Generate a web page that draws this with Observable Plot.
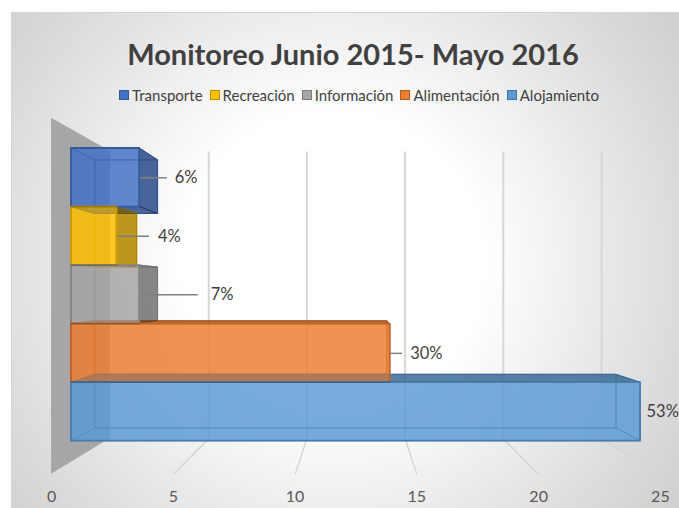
<!DOCTYPE html>
<html>
<head>
<meta charset="utf-8">
<script src="https://cdn.jsdelivr.net/npm/d3@7"></script>
<script src="https://cdn.jsdelivr.net/npm/@observablehq/plot@0.6"></script>
<style>
  html, body { margin: 0; padding: 0; background: #fff; }
  #wrap { position: relative; width: 679px; height: 508px; overflow: hidden; background: #fff; font-family: Lato, "Open Sans", sans-serif; }
  #bg { position: absolute; left: 11px; top: 12px; width: 700px; height: 520px;
        border-left: 1px solid #d4d4d4; border-top: 1px solid #d4d4d4;
        background: radial-gradient(circle at 320px 250px, #ffffff 0px, #ffffff 150px, #dcdcdc 345px, #cdcdcd 440px); }
  #chart { position: absolute; left: 0; top: 0; }
  #title { position: absolute; left: 0; width: 706px; top: 36px; text-align: center; font-weight: 700; font-size: 29px; color: #404040; white-space: nowrap; }
  #legend { position: absolute; left: 0; width: 718px; top: 86px; display: flex; justify-content: center; font-size: 15px; color: #404040; white-space: nowrap; }
  #legend .item { display: flex; align-items: center; margin: 0 3.5px; }
  #legend .sw { width: 10px; height: 10px; margin-right: 3px; box-sizing: border-box; border: 1.5px solid; }
</style>
</head>
<body>
<div id="wrap">
  <div id="bg"></div>
  <div id="chart"></div>
  <div id="title">Monitoreo Junio 2015- Mayo 2016</div>
  <div id="legend"></div>
</div>
<script>
// ---- data ----
const categories = ["Transporte", "Recreación", "Información", "Alimentación", "Alojamiento"];
const values = [3, 2, 3, 14, 25];
const pctLabels = ["6%", "4%", "7%", "30%", "53%"];
const colors = ["#4472C4", "#FFC000", "#A5A5A5", "#ED7D31", "#5B9BD5"];
const ticks = [0, 5, 10, 15, 20, 25];

// ---- layout / perspective constants (front plane of bars = data space) ----
const X_RANGE = [71, 640], Y_RANGE = [148, 440.7];
const VX = 12.51, VY = 2.41;           // vanishing point in data coords
const S_BACK = 0.9156, S_WALL = 0.863, S_FLOOR = 1.07;
const Y_TOP = -0.325, Y_BOT = 5.36;
const leaderPx = [27, 32, 58, 12, 0];
const gapPx = [8, 9, 13, 8, 6];
const pxPerUnit = (X_RANGE[1] - X_RANGE[0]) / 25;

const proj = (v, y, s) => ({x: VX + s * (v - VX), y: VY + s * (y - VY)});
function quad(key, cat, A, B, C, D) {
  return [
    {key, cat, x1: A.x, y1: A.y, x2: D.x, y2: D.y},
    {key, cat, x1: B.x, y1: B.y, x2: C.x, y2: C.y}
  ];
}

const hidden = [], visible = [], fronts = [];
categories.forEach((cat, i) => {
  const v = values[i];
  const F = (a, b) => proj(a, b, 1), B = (a, b) => proj(a, b, S_BACK);
  const ftl = F(0, i), ftr = F(v, i), fbr = F(v, i + 1), fbl = F(0, i + 1);
  const btl = B(0, i), btr = B(v, i), bbr = B(v, i + 1), bbl = B(0, i + 1);
  hidden.push(...quad(cat + "back", cat, btl, btr, bbr, bbl));
  hidden.push(...quad(cat + "left", cat, ftl, btl, bbl, fbl));
  (v < VX ? visible : hidden).push(...quad(cat + "right", cat, ftr, btr, bbr, fbr));
  (i > VY ? visible : hidden).push(...quad(cat + "top", cat, ftl, ftr, btr, btl));
  (i + 1 < VY ? visible : hidden).push(...quad(cat + "bottom", cat, fbl, fbr, bbr, bbl));
  fronts.push(...quad(cat + "front", cat, ftl, ftr, fbr, fbl));
});

const leftWall = quad("wall", "wall",
  proj(0, Y_TOP, S_FLOOR), proj(0, Y_TOP, S_WALL), proj(0, Y_BOT, S_WALL), proj(0, Y_BOT, S_FLOOR));

const gridTicks = ticks.filter(t => t > 0);
const bars = categories.map((cat, i) => ({cat, i, v: values[i], label: pctLabels[i], lead: leaderPx[i], gap: gapPx[i]}));

const areaOpts = {x1: "x1", y1: "y1", x2: "x2", y2: "y2", z: "key"};

const plot = Plot.plot({
  width: 679, height: 508,
  margin: 0,
  style: {background: "transparent", overflow: "visible"},
  x: {domain: [0, 25], range: X_RANGE, axis: null},
  y: {domain: [0, 5], range: Y_RANGE, axis: null},
  color: {domain: categories, range: colors},
  marks: [
    // back wall gridlines
    Plot.link(gridTicks, {
      x1: t => proj(t, Y_TOP, S_WALL).x, y1: t => proj(t, Y_TOP, S_WALL).y,
      x2: t => proj(t, Y_BOT, S_WALL).x, y2: t => proj(t, Y_BOT, S_WALL).y,
      stroke: "#d6d6d6", strokeWidth: 2
    }),
    // floor lines
    Plot.link(gridTicks, {
      x1: t => proj(t, Y_BOT, S_WALL).x, y1: t => proj(t, Y_BOT, S_WALL).y,
      x2: t => proj(t, Y_BOT, S_FLOOR).x, y2: t => proj(t, Y_BOT, S_FLOOR).y,
      stroke: "#d6d6d6", strokeWidth: 1.5
    }),
    // side wall
    Plot.area(leftWall, {...areaOpts, fill: "#a6a6a6"}),
    // bar faces
    Plot.area(hidden, {...areaOpts, fill: "cat", fillOpacity: 0.6, stroke: "cat", strokeWidth: 1, strokeOpacity: 0.7}),
    Plot.area(hidden, {...areaOpts, fill: "none", stroke: "#000", strokeWidth: 1, strokeOpacity: 0.12}),
    Plot.area(visible, {...areaOpts, fill: "cat", fillOpacity: 0.6, stroke: "cat", strokeWidth: 1}),
    Plot.area(visible, {...areaOpts, fill: "#000", fillOpacity: 0.25, stroke: "#000", strokeOpacity: 0.2, strokeWidth: 1}),
    Plot.area(fronts, {...areaOpts, fill: "cat", fillOpacity: 0.6, stroke: "cat", strokeWidth: 1.8}),
    Plot.area(fronts, {...areaOpts, fill: "none", stroke: "#000", strokeWidth: 1.8, strokeOpacity: 0.2}),
    // leader lines and data labels
    Plot.link(bars.filter(d => d.lead > 0), {
      x1: "v", y1: d => d.i + 0.5, x2: d => d.v + d.lead / pxPerUnit, y2: d => d.i + 0.5,
      stroke: "#808080", strokeWidth: 1.5
    }),
    Plot.text(bars, {
      x: d => d.v + (d.lead + d.gap) / pxPerUnit, y: d => d.i + 0.5, text: "label",
      textAnchor: "start", fontSize: 16.5, fill: "#404040", fontFamily: "Lato"
    }),
    // value axis labels on the floor front edge
    Plot.text(ticks, {
      x: t => proj(t, Y_BOT, S_FLOOR).x, y: t => proj(t, Y_BOT, S_FLOOR).y, dy: 23,
      text: t => String(t), fontSize: 16, fill: "#595959", fontFamily: "Lato"
    })
  ]
});
document.getElementById("chart").appendChild(plot);

// legend
const legend = document.getElementById("legend");
categories.forEach((cat, i) => {
  const item = document.createElement("span");
  item.className = "item";
  const sw = document.createElement("span");
  sw.className = "sw";
  sw.style.background = colors[i];
  sw.style.borderColor = d3.color(colors[i]).darker(0.8).formatHex();
  const tx = document.createElement("span");
  tx.textContent = cat;
  item.appendChild(sw); item.appendChild(tx);
  legend.appendChild(item);
});
</script>
</body>
</html>
